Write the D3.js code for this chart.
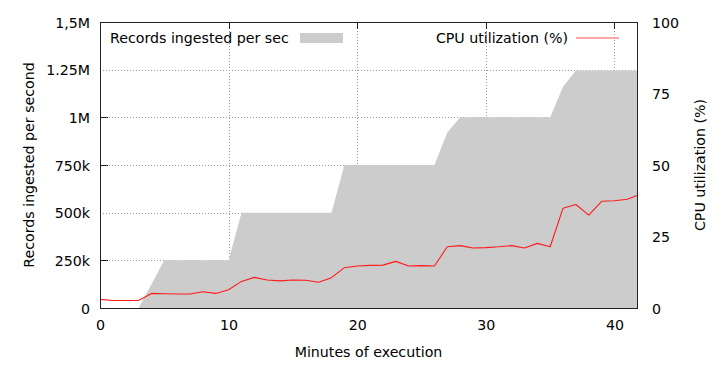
<!DOCTYPE html>
<html>
<head>
<meta charset="utf-8">
<script src="https://cdn.jsdelivr.net/npm/d3@7"></script>
<style>
  html, body { margin: 0; padding: 0; background: #fff; }
  text { font-family: "DejaVu Sans", sans-serif; fill: #000; }
</style>
</head>
<body>
<svg id="chart" width="721" height="366"></svg>
<script>
// ---- data ----
const recordMinutes = [0,1,2,3,4,5,6,7,8,9,10,11,12,13,14,15,16,17,18,19,20,21,22,23,24,25,26,27,28,29,30,31,32,33,34,35,36,37,38,39,40,41,41.75];
const recordsPerSec = [0,0,0,0,125000,250000,250000,250000,250000,250000,250000,500000,500000,500000,500000,500000,500000,500000,500000,750000,750000,750000,750000,750000,750000,750000,750000,920000,1000000,1000000,1000000,1000000,1000000,1000000,1000000,1000000,1160000,1245000,1245000,1245000,1245000,1245000,1245000];
const cpuMinutes = [0,1,2,3,4,5,6,7,8,9,10,11,12,13,14,15,16,17,18,19,20,21,22,23,24,25,26,27,28,29,30,31,32,33,34,35,36,37,38,39,40,41,41.75];
const cpuPercent = [3.0,2.6,2.6,2.6,5.1,5.0,4.9,4.9,5.7,5.1,6.4,9.3,10.7,9.8,9.5,9.8,9.7,9.0,10.6,14.1,14.7,14.9,15.0,16.3,14.7,14.8,14.7,21.4,21.8,21.0,21.1,21.4,21.8,21.0,22.6,21.4,34.9,36.2,32.5,37.3,37.5,38.0,39.3];

const xTicks = [0,10,20,30,40];
const xGridTicks = [10,20,30,40];
const yLeftTicks = [0,250000,500000,750000,1000000,1250000,1500000];
const yLeftTickLabels = ["0","250k","500k","750k","1M","1.25M","1,5M"];
const yLeftGridTicks = [250000,500000,750000,1000000,1250000];
const yLeftMarkTicks = [250000,750000,1000000];
const yRightTicks = [0,25,50,75,100];

const xTitle = "Minutes of execution";
const yLeftTitle = "Records ingested per second";
const yRightTitle = "CPU utilization (%)";
const legendRecords = "Records ingested per sec";
const legendCpu = "CPU utilization (%)";

// ---- layout ----
const L = 100, R = 637, T = 22, B = 308;
const svg = d3.select("#chart");

const x = d3.scaleLinear().domain([0, 41.75]).range([L, R]);
const yL = d3.scaleLinear().domain([0, 1500000]).range([B, T]);
const yR = d3.scaleLinear().domain([0, 100]).range([B, T]);

const fs = "14.2px";

// grid (behind area)
const grid = svg.append("g").attr("stroke", "#9a9a9a").attr("stroke-width", 1).attr("stroke-dasharray", "1,2");
grid.selectAll(".gx").data(xGridTicks).enter().append("line")
  .attr("x1", d => Math.round(x(d)) + 0.5).attr("x2", d => Math.round(x(d)) + 0.5)
  .attr("y1", T).attr("y2", B);
grid.selectAll(".gy").data(yLeftGridTicks).enter().append("line")
  .attr("x1", L).attr("x2", R)
  .attr("y1", d => Math.round(yL(d)) + 0.5).attr("y2", d => Math.round(yL(d)) + 0.5);

// area
const area = d3.area()
  .x((d, i) => x(recordMinutes[i]))
  .y0(B)
  .y1(d => yL(d));
svg.append("path").datum(recordsPerSec).attr("d", area).attr("fill", "#cccccc");

// CPU line
const line = d3.line()
  .x((d, i) => x(cpuMinutes[i]))
  .y(d => yR(d));
svg.append("path").datum(cpuPercent).attr("d", line)
  .attr("fill", "none").attr("stroke", "#ff1a1a").attr("stroke-width", 1.1)
  .attr("stroke-linejoin", "round");

// frame
svg.append("rect").attr("x", L + 0.5).attr("y", T + 0.5).attr("width", R - L).attr("height", B - T)
  .attr("fill", "none").attr("stroke", "#222").attr("stroke-width", 1);

// tick marks
const ticks = svg.append("g").attr("stroke", "#222").attr("stroke-width", 1);
ticks.selectAll(".tt").data(xGridTicks).enter().append("line")
  .attr("x1", d => Math.round(x(d)) + 0.5).attr("x2", d => Math.round(x(d)) + 0.5)
  .attr("y1", T).attr("y2", T + 7);
ticks.selectAll(".tl").data(yLeftMarkTicks).enter().append("line")
  .attr("x1", L).attr("x2", L + 8)
  .attr("y1", d => Math.round(yL(d)) + 0.5).attr("y2", d => Math.round(yL(d)) + 0.5);

// axes labels via d3 axes (lines hidden)
const xAxis = d3.axisBottom(x).tickValues(xTicks).tickFormat(d3.format("d")).tickSize(0).tickPadding(0);
const gx = svg.append("g").attr("transform", `translate(0,${B})`).call(xAxis);
gx.select(".domain").remove();
gx.selectAll("text").attr("y", 12).attr("dy", "0.71em").style("font-size", fs).style("font-family", "DejaVu Sans");

const yAxisL = d3.axisLeft(yL).tickValues(yLeftTicks).tickFormat((d, i) => yLeftTickLabels[i]).tickSize(0).tickPadding(0);
const gyl = svg.append("g").attr("transform", `translate(${L},0)`).call(yAxisL);
gyl.select(".domain").remove();
gyl.selectAll("text").attr("x", -10).attr("dy", "0.36em").style("font-size", fs).style("font-family", "DejaVu Sans");

const yAxisR = d3.axisRight(yR).tickValues(yRightTicks).tickFormat(d3.format("d")).tickSize(0).tickPadding(0);
const gyr = svg.append("g").attr("transform", `translate(${R},0)`).call(yAxisR);
gyr.select(".domain").remove();
gyr.selectAll("text").attr("x", 15).attr("dy", "0.36em").style("font-size", fs).style("font-family", "DejaVu Sans");

// titles
svg.append("text").attr("x", (L + R) / 2).attr("y", 357).attr("text-anchor", "middle")
  .style("font-size", fs).text(xTitle);
svg.append("text").attr("transform", `translate(34,${(T + B) / 2}) rotate(-90)`).attr("text-anchor", "middle")
  .style("font-size", fs).text(yLeftTitle);
svg.append("text").attr("transform", `translate(705,${(T + B) / 2}) rotate(-90)`).attr("text-anchor", "middle")
  .style("font-size", fs).text(yRightTitle);

// legend
svg.append("text").attr("x", 110).attr("y", 38).attr("dy", "0.36em").style("font-size", fs).text(legendRecords);
svg.append("rect").attr("x", 300).attr("y", 33).attr("width", 43).attr("height", 10).attr("fill", "#cccccc");
svg.append("text").attr("x", 568).attr("y", 38).attr("dy", "0.36em").attr("text-anchor", "end").style("font-size", fs).text(legendCpu);
svg.append("line").attr("x1", 576).attr("x2", 619).attr("y1", 38).attr("y2", 38)
  .attr("stroke", "#ff8a8a").attr("stroke-width", 1.6);
</script>
</body>
</html>
